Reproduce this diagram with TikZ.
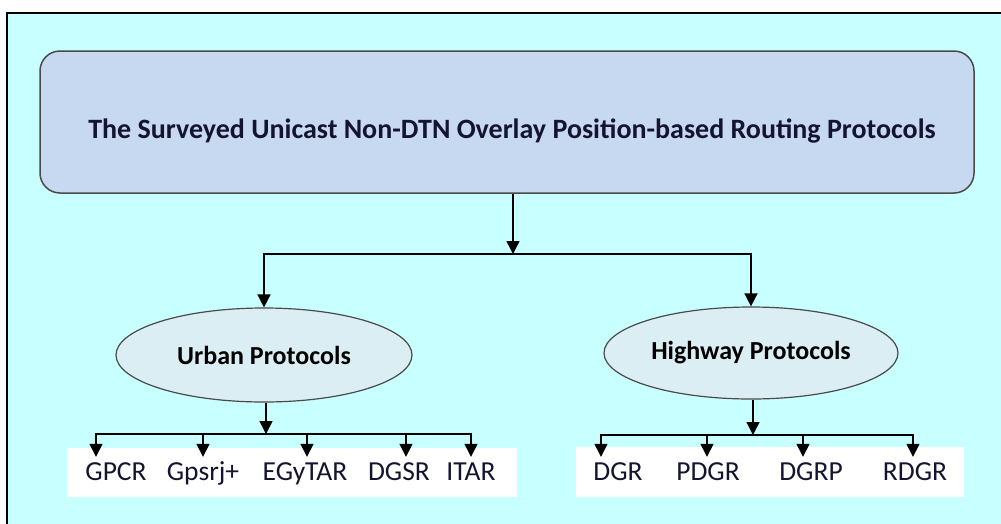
\documentclass[tikz,border=0pt]{standalone}
\usepackage{fontspec}
\setmainfont{Carlito}
\usetikzlibrary{shapes.geometric,arrows.meta}
\definecolor{bgcyan}{HTML}{C8FFFF}
\definecolor{topfill}{HTML}{C6D9F0}
\definecolor{ellfill}{HTML}{DAEEF3}
\definecolor{edgegray}{HTML}{4A4A4A}
\definecolor{txt}{HTML}{141430}
\tikzset{
  arr/.style={line width=1.5pt, -{Triangle[length=13pt,width=13pt]}},
  topbox/.style={draw=edgegray, line width=1.5pt, fill=topfill, rounded corners=20pt, minimum width=934pt, minimum height=142pt, inner sep=0pt},
  ellnode/.style={ellipse, draw=edgegray, line width=1.2pt, fill=ellfill, inner sep=0pt, font=\bfseries\fontsize{26}{30}\selectfont, text=black},
  whitebox/.style={fill=white, inner sep=0pt},
  leaf/.style={font=\fontsize{27.5}{32}\selectfont, text=txt, anchor=base, text height=18pt, text depth=5pt, inner xsep=0pt, inner ysep=5pt}
}
\begin{document}
\begin{tikzpicture}[x=1pt,y=-1pt]
\useasboundingbox (0,0) rectangle (1001,523);
\fill[white] (0,0) rectangle (1001,523);
\fill[bgcyan] (7,13) rectangle (1003,525);
\draw[line width=1.5pt] (7,525) -- (7,13) -- (1003,13);
% top box
\node[topbox] (top) at (507,122) {};
\node[font=\bfseries\fontsize{28}{32}\selectfont, text=txt] (title) at (512,131) {The Surveyed Unicast Non-DTN Overlay Position-based Routing Protocols};
% ellipses
\node[ellnode, minimum width=296pt, minimum height=94pt] (urban) at (264,355) {Urban Protocols};
\node[ellnode, minimum width=294pt, minimum height=92pt] (highway) at (751,353) {Highway Protocols};
% white boxes
\node[whitebox, minimum width=450pt, minimum height=49pt] (ubox) at (292,472.5) {};
\node[whitebox, minimum width=388pt, minimum height=50pt] (hbox) at (770,472) {};
% leaves
\node[leaf] (gpcr) at (116,480) {GPCR};
\node[leaf] (gpsrj) at (203,480) {Gpsrj+};
\node[leaf] (egytar) at (305,480) {EGyTAR};
\node[leaf] (dgsr) at (399,480) {DGSR};
\node[leaf] (itar) at (471,480) {ITAR};
\node[leaf] (dgr) at (618,480) {DGR};
\node[leaf] (pdgr) at (708,480) {PDGR};
\node[leaf] (dgrp) at (811,480) {DGRP};
\node[leaf] (rdgr) at (915,480) {RDGR};
% junctions
\coordinate (j1) at (513,254);
\coordinate (j2) at (266,434);
\coordinate (j3) at (753,435);
% connectors
\draw[arr] (top.south -| j1) -- (j1);
\draw[arr] (j1) -| (urban.north);
\draw[arr] (j1) -| (highway.north);
\draw[arr] (urban.south -| j2) -- (j2);
\draw[arr] (highway.south -| j3) -- (j3);
\draw[arr] (j2) -| ([xshift=-20pt]gpcr.north);
\draw[arr] (j2) -| (gpsrj.north);
\draw[arr] (j2) -| ([xshift=2pt]egytar.north);
\draw[arr] (j2) -| ([xshift=7pt]dgsr.north);
\draw[arr] (j2) -| (itar.north);
\draw[arr] (j3) -| ([xshift=-17pt]dgr.north);
\draw[arr] (j3) -| ([xshift=-1pt]pdgr.north);
\draw[arr] (j3) -| ([xshift=-8pt]dgrp.north);
\draw[arr] (j3) -| ([xshift=-2pt]rdgr.north);
\end{tikzpicture}
\end{document}
